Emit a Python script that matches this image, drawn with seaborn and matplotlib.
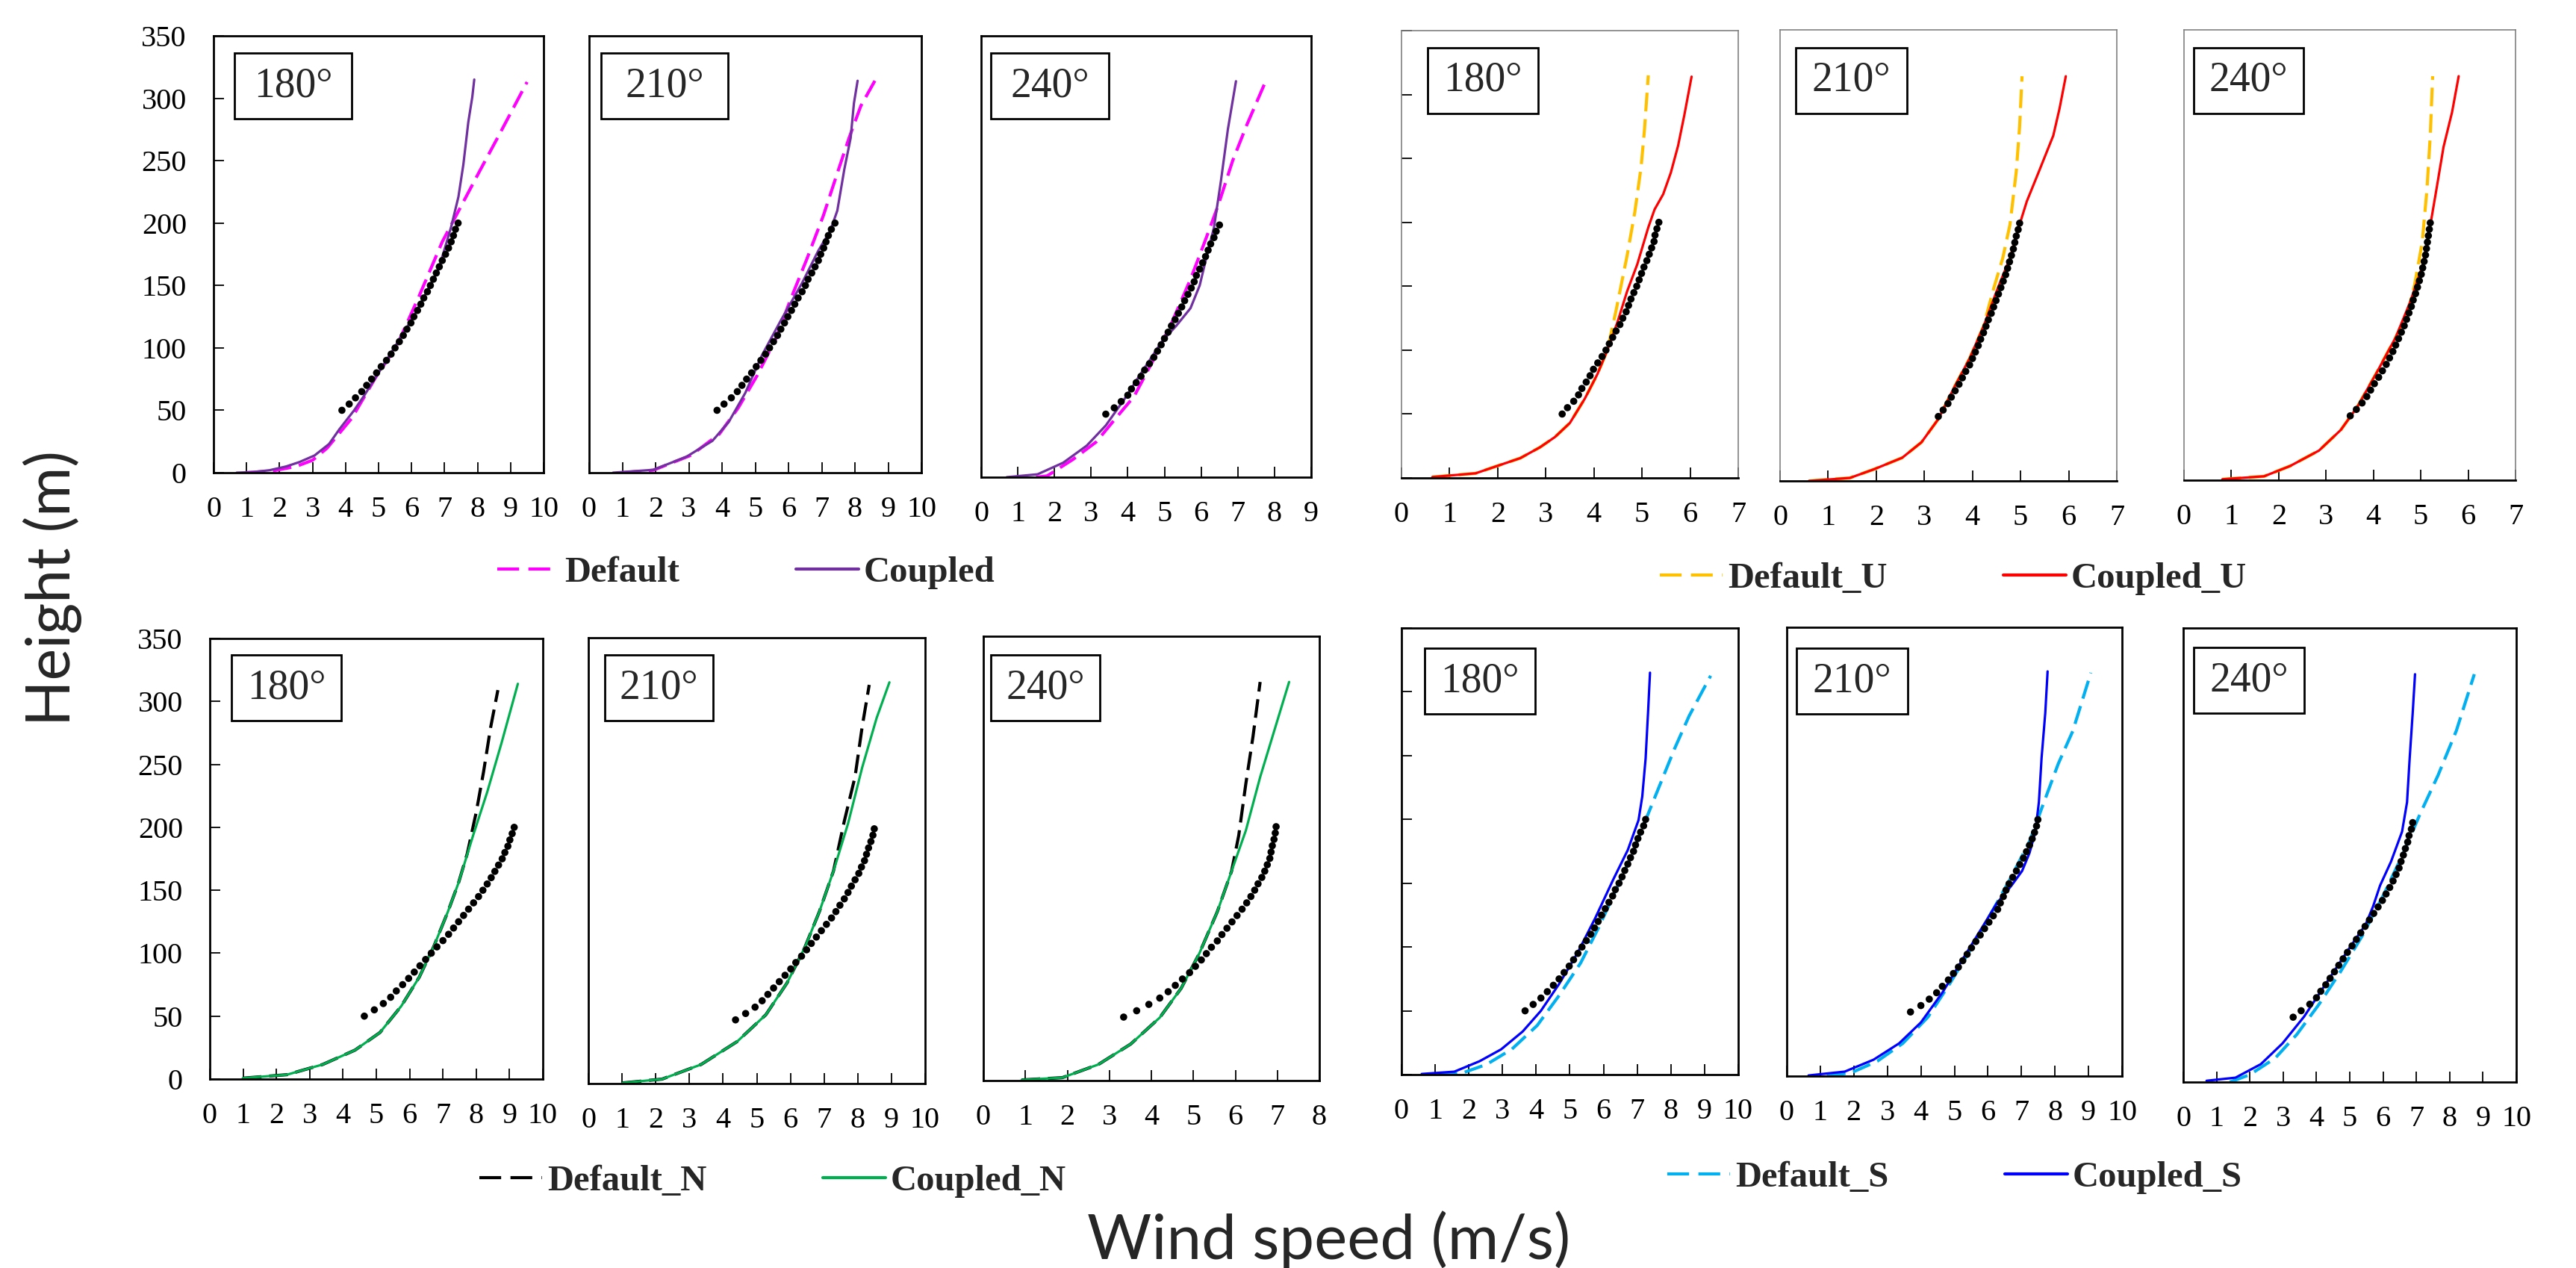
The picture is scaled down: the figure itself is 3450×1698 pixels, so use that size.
import matplotlib
matplotlib.use("Agg")
import matplotlib.pyplot as plt
import seaborn as sns
from matplotlib.lines import Line2D
from matplotlib.patches import Rectangle

# ------------------------------------------------------------
# data
# ------------------------------------------------------------
directions = ["180°", "210°", "240°"]
obs_height = [50, 55, 60, 65, 70, 75, 80, 85, 90, 95, 100, 105, 110, 115, 120, 125,
              130, 135, 140, 145, 150, 155, 160, 165, 170, 175, 180, 185, 190, 195, 200]

# top left: Default / Coupled
base_obs_180 = [3.89, 4.11, 4.30, 4.49, 4.64, 4.79, 4.94, 5.08, 5.24, 5.38, 5.50, 5.63, 5.75, 5.86, 5.98, 6.07,
                6.18, 6.28, 6.37, 6.48, 6.57, 6.66, 6.75, 6.84, 6.93, 7.03, 7.12, 7.20, 7.27, 7.33, 7.41]
base_def_u_180 = [1.0, 1.8, 2.5, 3.0, 3.44, 4.19, 4.94, 5.54, 6.22, 6.93, 7.49, 8.05, 8.66, 9.26, 9.5]
base_def_z_180 = [0, 1.5, 5, 10, 19.7, 43.7, 77.6, 101, 141, 185, 213, 241, 271, 301, 313]
base_cpl_u_180 = [0.7, 1.2, 1.7, 2.2, 2.6, 3.06, 3.5, 3.81, 4.26, 4.56, 5.32, 6.07, 6.82, 7.2, 7.42, 7.57, 7.72, 7.84, 7.9]
base_cpl_z_180 = [0, 0.5, 2, 5, 8.5, 13.8, 23, 34.7, 50, 61.6, 93.5, 125.6, 163, 197, 221, 247, 281, 301, 315]

base_obs_210 = [3.85, 4.06, 4.28, 4.46, 4.60, 4.74, 4.89, 5.03, 5.17, 5.31, 5.43, 5.55, 5.67, 5.77, 5.88, 5.98,
                6.09, 6.19, 6.29, 6.41, 6.51, 6.59, 6.70, 6.80, 6.90, 6.97, 7.06, 7.13, 7.20, 7.29, 7.40]
base_def_u_210 = [1.0, 1.93, 3.07, 3.92, 4.49, 5.06, 5.63, 6.05, 6.55, 7.05, 7.47, 7.82, 8.18, 8.6]
base_def_z_210 = [0, 2, 14, 31, 52, 78, 108, 138, 171, 206, 240, 268, 294, 314]
base_cpl_u_210 = [0.72, 1.93, 2.93, 3.71, 4.2, 4.7, 5.2, 5.77, 6.41, 6.9, 7.26, 7.47, 7.68, 7.87, 7.97, 8.08]
base_cpl_z_210 = [0, 2.3, 12.8, 25.5, 40.6, 63.9, 94, 122, 152, 178, 194, 210, 243, 268, 296, 314]

base_obs_240 = [3.40, 3.63, 3.82, 4.00, 4.10, 4.23, 4.36, 4.46, 4.59, 4.71, 4.81, 4.91, 5.00, 5.10, 5.19, 5.29,
                5.38, 5.47, 5.55, 5.64, 5.73, 5.81, 5.87, 5.96, 6.04, 6.12, 6.19, 6.26, 6.35, 6.41, 6.50]
base_def_u_240 = [1.5, 1.8, 2.5, 3.14, 3.65, 4.17, 4.68, 5.19, 5.71, 6.09, 6.47, 6.86, 7.24, 7.76]
base_def_z_240 = [0, 1, 14, 28, 46, 64, 92, 122, 157, 186, 216, 251, 279, 314]
base_cpl_u_240 = [0.7, 1.54, 2.24, 2.88, 3.40, 3.91, 4.42, 4.94, 5.32, 5.71, 5.96, 6.15, 6.35, 6.54, 6.73, 6.95]
base_cpl_z_240 = [0, 2.3, 11.5, 25, 41, 62, 85, 108, 120, 134, 152, 175, 198, 235, 276, 314]

# top right: Default_U / Coupled_U
u_obs_180 = [3.34, 3.45, 3.58, 3.68, 3.75, 3.84, 3.92, 3.99, 4.08, 4.17, 4.25, 4.32, 4.39, 4.46, 4.54, 4.60,
             4.67, 4.72, 4.77, 4.83, 4.89, 4.94, 4.99, 5.04, 5.10, 5.15, 5.20, 5.25, 5.27, 5.31, 5.35]
u_def_u_180 = [0.64, 1.54, 2.0, 2.47, 2.88, 3.19, 3.5, 3.81, 4.07, 4.28, 4.46, 4.69, 4.85, 4.98, 5.05, 5.13]
u_def_z_180 = [0.7, 3.6, 9.5, 15.5, 24, 32, 43, 62, 81, 100, 131, 174, 208, 243, 272, 315]
u_cpl_u_180 = [0.64, 1.54, 2.0, 2.47, 2.88, 3.19, 3.5, 3.81, 4.07, 4.28, 4.49, 4.69, 4.90, 5.13, 5.26, 5.44, 5.6, 5.75, 5.88, 6.03]
u_cpl_z_180 = [0.7, 3.6, 9.5, 15.5, 24, 32, 43, 62, 81, 100, 122, 146, 167, 196, 210, 222, 239, 260, 284, 314]

u_obs_210 = [3.29, 3.39, 3.49, 3.56, 3.64, 3.72, 3.79, 3.86, 3.94, 4.00, 4.06, 4.12, 4.17, 4.23, 4.28, 4.33,
             4.39, 4.44, 4.49, 4.54, 4.59, 4.64, 4.69, 4.73, 4.77, 4.81, 4.85, 4.88, 4.91, 4.95, 4.98]
u_def_u_210 = [0.6, 1.45, 1.95, 2.54, 2.94, 3.29, 3.64, 3.94, 4.23, 4.43, 4.63, 4.78, 4.91, 4.98, 5.03]
u_def_z_210 = [0, 2.3, 9, 18, 30, 48, 74, 95, 120, 148, 173, 199, 240, 275, 314]
u_cpl_u_210 = [0.6, 1.45, 1.95, 2.54, 2.94, 3.29, 3.64, 3.94, 4.23, 4.53, 4.78, 4.98, 5.13, 5.38, 5.68, 5.81, 5.94]
u_cpl_z_210 = [0, 2.3, 9, 18, 30, 48, 74, 95, 120, 150, 173, 199, 217, 240, 268, 289, 314]

u_obs_240 = [3.51, 3.64, 3.76, 3.86, 3.94, 4.02, 4.11, 4.19, 4.27, 4.34, 4.41, 4.47, 4.53, 4.59, 4.65, 4.70,
             4.75, 4.80, 4.84, 4.89, 4.93, 4.97, 5.01, 5.04, 5.07, 5.10, 5.12, 5.14, 5.16, 5.18, 5.20]
u_def_u_240 = [0.81, 1.69, 2.24, 2.85, 3.31, 3.66, 4.06, 4.47, 4.72, 4.87, 5.03, 5.13, 5.20, 5.25]
u_def_z_240 = [0.7, 3, 11, 23, 39, 57, 83, 111, 130, 152, 185, 226, 268, 314]
u_cpl_u_240 = [0.81, 1.69, 2.24, 2.85, 3.31, 3.66, 4.06, 4.47, 4.77, 5.03, 5.20, 5.33, 5.48, 5.66, 5.80]
u_cpl_z_240 = [0.7, 3, 11, 23, 39, 57, 83, 111, 138, 166, 198, 226, 259, 286, 314]

# bottom left: Default_N / Coupled_N
n_obs_180 = [4.64, 4.94, 5.21, 5.43, 5.60, 5.79, 5.97, 6.14, 6.31, 6.48, 6.65, 6.82, 7.00, 7.17, 7.32, 7.47,
             7.62, 7.77, 7.92, 8.07, 8.20, 8.33, 8.45, 8.56, 8.67, 8.78, 8.86, 8.95, 9.01, 9.08, 9.14]
n_def_u_180 = [0.99, 2.32, 3.39, 4.36, 5.11, 5.75, 6.29, 6.72, 7.15, 7.47, 7.73, 8.0, 8.22, 8.43, 8.65]
n_def_z_180 = [0.7, 3.5, 11.6, 23, 37, 58, 81, 105, 133, 156, 179, 212, 244, 279, 309]
n_cpl_u_180 = [0.99, 2.32, 3.39, 4.36, 5.11, 5.75, 6.29, 6.72, 7.15, 7.47, 7.9, 8.33, 8.76, 9.25]
n_cpl_z_180 = [0.7, 3.5, 11.6, 23, 37, 58, 81, 105, 133, 156, 193, 228, 267, 314]

n_obs_210 = [4.37, 4.67, 4.95, 5.16, 5.33, 5.50, 5.67, 5.84, 6.01, 6.16, 6.33, 6.48, 6.62, 6.77, 6.92, 7.07,
             7.22, 7.35, 7.47, 7.60, 7.71, 7.81, 7.92, 8.03, 8.11, 8.20, 8.26, 8.32, 8.39, 8.45, 8.49]
n_def_u_210 = [1.02, 2.19, 3.35, 4.42, 5.27, 5.90, 6.43, 6.86, 7.28, 7.6, 7.92, 8.13, 8.34]
n_def_z_210 = [0.5, 3.5, 15, 33, 54, 79, 107, 135, 167, 206, 241, 280, 313]
n_cpl_u_210 = [1.02, 2.19, 3.35, 4.42, 5.27, 5.90, 6.43, 6.86, 7.28, 7.71, 8.13, 8.56, 8.94]
n_cpl_z_210 = [0.5, 3.5, 15, 33, 54, 79, 107, 135, 167, 204, 248, 287, 315]

n_obs_240 = [3.34, 3.65, 3.94, 4.20, 4.40, 4.57, 4.74, 4.91, 5.05, 5.19, 5.31, 5.43, 5.57, 5.68, 5.80, 5.92,
             6.04, 6.16, 6.27, 6.37, 6.46, 6.54, 6.63, 6.70, 6.76, 6.82, 6.85, 6.88, 6.92, 6.95, 6.97]
n_def_u_240 = [0.91, 1.88, 2.74, 3.51, 4.20, 4.71, 5.14, 5.57, 5.91, 6.08, 6.25, 6.42, 6.59]
n_def_z_240 = [0.5, 2.3, 12.7, 28.8, 49.6, 72.7, 100, 133, 165, 193, 234, 271, 314]
n_cpl_u_240 = [0.91, 1.88, 2.74, 3.51, 4.20, 4.71, 5.14, 5.57, 5.91, 6.25, 6.59, 6.93, 7.28]
n_cpl_z_240 = [0.5, 2.3, 12.7, 28.8, 49.6, 72.7, 100, 133, 165, 197, 239, 276, 314]

# bottom right: Default_S / Coupled_S
s_obs_180 = [3.67, 3.91, 4.14, 4.33, 4.51, 4.68, 4.83, 4.98, 5.11, 5.24, 5.36, 5.49, 5.62, 5.73, 5.84, 5.94,
             6.05, 6.16, 6.27, 6.35, 6.46, 6.55, 6.63, 6.72, 6.80, 6.89, 6.95, 7.02, 7.10, 7.19, 7.25]
s_def_u_180 = [1.1, 1.78, 2.53, 3.28, 4.03, 4.68, 5.32, 5.86, 6.39, 6.82, 7.25, 7.68, 8.11, 8.54, 9.18]
s_def_z_180 = [0, 1, 8, 20, 38.5, 62, 87.5, 115.5, 146, 171, 199.5, 227.5, 255.5, 281, 312.6]
s_cpl_u_180 = [0.6, 1.57, 2.32, 2.96, 3.6, 4.14, 4.68, 5.21, 5.75, 6.29, 6.72, 7.04, 7.15, 7.25, 7.32, 7.38]
s_cpl_z_180 = [0.5, 2.3, 10.5, 19.8, 33.8, 50, 71, 94.5, 122.5, 153, 176, 199.5, 218, 248, 283, 315]

s_obs_210 = [3.69, 4.00, 4.25, 4.47, 4.64, 4.82, 4.97, 5.12, 5.25, 5.38, 5.51, 5.64, 5.77, 5.90, 6.03, 6.16,
             6.29, 6.37, 6.46, 6.54, 6.63, 6.74, 6.85, 6.95, 7.06, 7.15, 7.24, 7.32, 7.39, 7.45, 7.49]
s_def_u_210 = [1.2, 1.94, 2.70, 3.46, 4.21, 4.86, 5.51, 6.16, 6.70, 7.24, 7.67, 8.10, 8.53, 9.07]
s_def_z_210 = [0, 2.8, 11.6, 25.5, 46, 72, 100, 130, 155.5, 183, 213.5, 243.7, 269, 314.5]
s_cpl_u_210 = [0.65, 1.73, 2.59, 3.35, 4.0, 4.64, 5.29, 5.83, 6.26, 6.70, 7.02, 7.24, 7.41, 7.52, 7.60, 7.71, 7.78]
s_cpl_z_210 = [0.5, 3.5, 12.8, 25.5, 41.8, 65, 93, 116, 134.6, 148.5, 160, 174, 190, 213.5, 248, 283, 315.6]

s_obs_240 = [3.30, 3.54, 3.80, 4.00, 4.13, 4.28, 4.41, 4.54, 4.67, 4.80, 4.93, 5.07, 5.20, 5.33, 5.46, 5.59,
             5.72, 5.85, 5.98, 6.09, 6.20, 6.30, 6.39, 6.48, 6.54, 6.61, 6.67, 6.74, 6.78, 6.85, 6.89]
s_def_u_240 = [1.4, 2.0, 2.76, 3.41, 4.07, 4.72, 5.37, 6.02, 6.57, 7.11, 7.65, 8.20, 8.74]
s_def_z_240 = [0, 5.7, 18.4, 36.7, 59.7, 85, 112.5, 144.6, 174.4, 206.6, 236.4, 270.8, 314.4]
s_cpl_u_240 = [0.70, 1.57, 2.33, 2.98, 3.63, 4.28, 4.93, 5.48, 5.70, 5.91, 6.24, 6.57, 6.72, 6.80, 6.89, 6.96]
s_cpl_z_240 = [1, 3.4, 13.8, 29.8, 50.5, 75.7, 101, 121.6, 135.4, 151.5, 170, 193, 215.7, 250, 284.6, 314.4]

legend_labels = {
    "base": ("Default", "Coupled"),
    "u": ("Default_U", "Coupled_U"),
    "n": ("Default_N", "Coupled_N"),
    "s": ("Default_S", "Coupled_S"),
}
colors = {
    "base": ("#FF00FF", "#7030A0"),
    "u": ("#FFC000", "#FF0000"),
    "n": ("#000000", "#00B050"),
    "s": ("#00B0F0", "#0000FF"),
}

# ------------------------------------------------------------
# figure layout (pixel boxes: left, top, right, bottom)
# ------------------------------------------------------------
W, H = 3450, 1698
sns.set_theme(style="white")
plt.rcParams["font.family"] = ["Liberation Serif", "DejaVu Serif"]

fig = plt.figure(figsize=(W / 100, H / 100), dpi=100)

DASH = (0, (6, 2.5))


def px_axes(l, t, r, b):
    return fig.add_axes([l / W, 1 - b / H, (r - l) / W, (b - t) / H])


def draw_panel(ax, group, obs, def_u, def_z, cpl_u, cpl_z, xmax, ylabels, yticks):
    def_c, cpl_c = colors[group]
    sns.lineplot(x=def_u, y=def_z, ax=ax, color=def_c, lw=3.0, linestyle=DASH,
                 sort=False, estimator=None)
    sns.lineplot(x=cpl_u, y=cpl_z, ax=ax, color=cpl_c, lw=2.3,
                 sort=False, estimator=None)
    sns.scatterplot(x=obs, y=obs_height, ax=ax, color="black", s=48,
                    edgecolor="none", zorder=4)

    ax.set_xlim(0, xmax)
    ax.set_ylim(0, 350)
    ax.set_xticks(range(0, xmax + 1))
    ax.set_xlabel("")
    ax.set_ylabel("")
    ax.tick_params(axis="x", direction="in", length=10, width=1.3, pad=22,
                   labelsize=29, colors="black", bottom=True)
    if yticks:
        ax.set_yticks(range(0, 351, 50))
        ax.tick_params(axis="y", direction="in", length=10, width=1.3, pad=26,
                       labelsize=29, left=True, labelleft=ylabels, colors="black")
    else:
        ax.set_yticks([])

    for side, sp in ax.spines.items():
        sp.set_visible(True)
        if group == "u" and side != "bottom":
            sp.set_color("#808080")
            sp.set_linewidth(1.2)
        else:
            sp.set_color("black")
            sp.set_linewidth(2.0)


def label_box(box, offset, text):
    l, t = box[0] + offset[0], box[1] + offset[1]
    w, h = offset[2], 88
    fig.add_artist(Rectangle((l / W, 1 - (t + h) / H), w / W, h / H,
                             transform=fig.transFigure, facecolor="white",
                             edgecolor="black", lw=2.0, zorder=5))
    fig.text((l + w / 2) / W, 1 - (t + h / 2) / H, text, ha="center", va="center",
             fontsize=40, zorder=6)


panels = [
    # box, offset(dx, dy, w), group, data, xmax, ylabels, yticks, direction
    ((286, 48, 728, 633), (28, 23, 157), "base", base_obs_180, base_def_u_180, base_def_z_180, base_cpl_u_180, base_cpl_z_180, 10, True, True, 0),
    ((789, 48, 1234, 633), (16, 23, 170), "base", base_obs_210, base_def_u_210, base_def_z_210, base_cpl_u_210, base_cpl_z_210, 10, False, False, 1),
    ((1314, 48, 1756, 639), (13, 23, 158), "base", base_obs_240, base_def_u_240, base_def_z_240, base_cpl_u_240, base_cpl_z_240, 9, False, False, 2),
    ((1877, 41, 2328, 640), (35, 23, 148), "u", u_obs_180, u_def_u_180, u_def_z_180, u_cpl_u_180, u_cpl_z_180, 7, False, True, 0),
    ((2384, 40, 2835, 644), (21, 24, 149), "u", u_obs_210, u_def_u_210, u_def_z_210, u_cpl_u_210, u_cpl_z_210, 7, False, False, 1),
    ((2925, 40, 3369, 643), (13, 24, 147), "u", u_obs_240, u_def_u_240, u_def_z_240, u_cpl_u_240, u_cpl_z_240, 7, False, False, 2),
    ((281, 855, 727, 1445), (29, 22, 147), "n", n_obs_180, n_def_u_180, n_def_z_180, n_cpl_u_180, n_cpl_z_180, 10, True, True, 0),
    ((788, 854, 1239, 1451), (22, 23, 145), "n", n_obs_210, n_def_u_210, n_def_z_210, n_cpl_u_210, n_cpl_z_210, 10, False, False, 1),
    ((1317, 852, 1767, 1447), (10, 25, 146), "n", n_obs_240, n_def_u_240, n_def_z_240, n_cpl_u_240, n_cpl_z_240, 8, False, False, 2),
    ((1877, 841, 2328, 1439), (31, 27, 148), "s", s_obs_180, s_def_u_180, s_def_z_180, s_cpl_u_180, s_cpl_z_180, 10, False, True, 0),
    ((2393, 840, 2842, 1441), (13, 28, 149), "s", s_obs_210, s_def_u_210, s_def_z_210, s_cpl_u_210, s_cpl_z_210, 10, False, False, 1),
    ((2924, 841, 3370, 1449), (14, 26, 148), "s", s_obs_240, s_def_u_240, s_def_z_240, s_cpl_u_240, s_cpl_z_240, 10, False, False, 2),
]

for box, offset, group, obs, du, dz, cu, cz, xmax, ylab, ytk, d in panels:
    ax = px_axes(*box)
    draw_panel(ax, group, obs, du, dz, cu, cz, xmax, ylab, ytk)
    label_box(box, offset, directions[d])

# legends, one per group
legend_pos = {"base": (999, 767), "u": (2616, 775), "n": (1035, 1582), "s": (2618, 1577)}
for group, (cx, cy) in legend_pos.items():
    def_c, cpl_c = colors[group]
    handles = [Line2D([], [], color=def_c, lw=3.0, linestyle=(0, (7, 3))),
               Line2D([], [], color=cpl_c, lw=3.0)]
    fig.legend(handles, legend_labels[group], loc="center",
               bbox_to_anchor=(cx / W, 1 - cy / H), ncol=2, frameon=False,
               prop={"family": "Liberation Serif", "weight": "bold", "size": 35},
               handlelength=1.72, handletextpad=0.15, columnspacing=3.2)

fig.text(70 / W, 1 - 788 / H, "Height (m)", rotation=90, ha="center", va="center",
         fontsize=58, family=["Lato", "DejaVu Sans"])
fig.text(1780 / W, 1 - 1686 / H, "Wind speed (m/s)", ha="center", va="baseline",
         fontsize=60, family=["Lato", "DejaVu Sans"])

fig.savefig("out.png", dpi=100, facecolor="white")
